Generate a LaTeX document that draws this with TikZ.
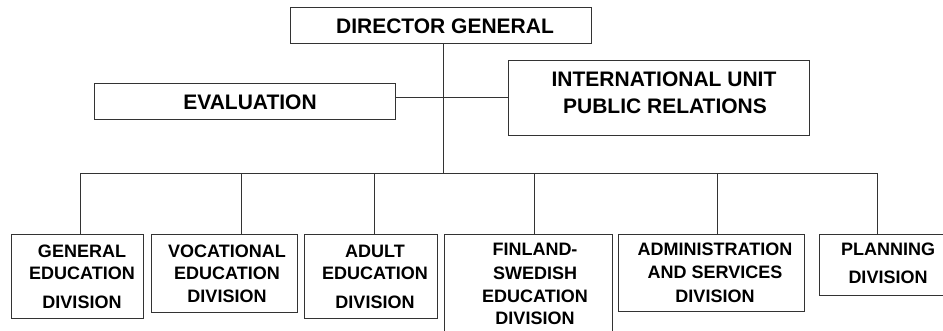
\documentclass[tikz,border=0pt]{standalone}
\usepackage{fontspec}
\setmainfont{Liberation Sans}
\begin{document}
\begin{tikzpicture}[x=1pt,y=-1pt,
  box/.style={draw=black!80, line width=0.9pt, inner sep=0pt, outer sep=0pt, anchor=north west},
  big/.style={font=\fontsize{21}{25}\selectfont\bfseries, anchor=base, inner sep=0pt},
  small/.style={font=\fontsize{18}{22}\selectfont\bfseries, anchor=base, inner sep=0pt},
  wire/.style={draw=black!80, line width=0.8pt}]
\useasboundingbox (0,0) rectangle (943,330);
\clip (0,0) rectangle (943,330);
% boxes
\node[box, minimum width=301pt, minimum height=36pt] (dg) at (290,7) {};
\node[box, minimum width=301pt, minimum height=36pt] (eval) at (94,83) {};
\node[box, minimum width=301pt, minimum height=75pt] (intl) at (508,60) {};
\node[box, minimum width=132pt, minimum height=84pt] (gen) at (11,234) {};
\node[box, minimum width=146pt, minimum height=78pt] (voc) at (151,234) {};
\node[box, minimum width=133pt, minimum height=84pt] (adult) at (304,234) {};
\node[box, minimum width=168pt, minimum height=110pt] (fin) at (444,234) {};
\node[box, minimum width=186pt, minimum height=77pt] (admin) at (618,234) {};
\node[box, minimum width=130pt, minimum height=61pt] (plan) at (819,234) {};
% texts
\node[big] (tdg) at (445,33) {DIRECTOR GENERAL};
\node[big] (teval) at (250,109) {EVALUATION};
\node[big] (tint1) at (664,86) {INTERNATIONAL UNIT};
\node[big] (tint2) at (665,113) {PUBLIC RELATIONS};
\node[small] (tg1) at (82,257) {GENERAL};
\node[small] (tg2) at (82,279) {EDUCATION};
\node[small] (tg3) at (82,308) {DIVISION};
\node[small] (tv1) at (227,257) {VOCATIONAL};
\node[small] (tv2) at (227,279) {EDUCATION};
\node[small] (tv3) at (227,302) {DIVISION};
\node[small] (ta1) at (375,257) {ADULT};
\node[small] (ta2) at (375,279) {EDUCATION};
\node[small] (ta3) at (375,308) {DIVISION};
\node[small] (tf1) at (535,255) {FINLAND-};
\node[small] (tf2) at (535,279) {SWEDISH};
\node[small] (tf3) at (535,302) {EDUCATION};
\node[small] (tf4) at (535,324) {DIVISION};
\node[small] (tad1) at (715,255) {ADMINISTRATION};
\node[small] (tad2) at (715,278) {AND SERVICES};
\node[small] (tad3) at (715,302) {DIVISION};
\node[small] (tp1) at (888,255) {PLANNING};
\node[small] (tp2) at (888,283) {DIVISION};
% connectors
\coordinate (m) at (443,173);
\coordinate (bl) at (80,173);
\coordinate (br) at (877,173);
\coordinate (d2) at (241,173);
\coordinate (d3) at (374,173);
\coordinate (d4) at (534,173);
\coordinate (d5) at (717,173);
\draw[wire] (dg.south -| m) -- (m);
\draw[wire] (eval.east |- intl.west) -- (intl.west);
\draw[wire] (bl) -- (br);
\draw[wire] (bl) -- (bl |- gen.north);
\draw[wire] (d2) -- (d2 |- voc.north);
\draw[wire] (d3) -- (d3 |- adult.north);
\draw[wire] (d4) -- (d4 |- fin.north);
\draw[wire] (d5) -- (d5 |- admin.north);
\draw[wire] (br) -- (br |- plan.north);
\end{tikzpicture}
\end{document}
